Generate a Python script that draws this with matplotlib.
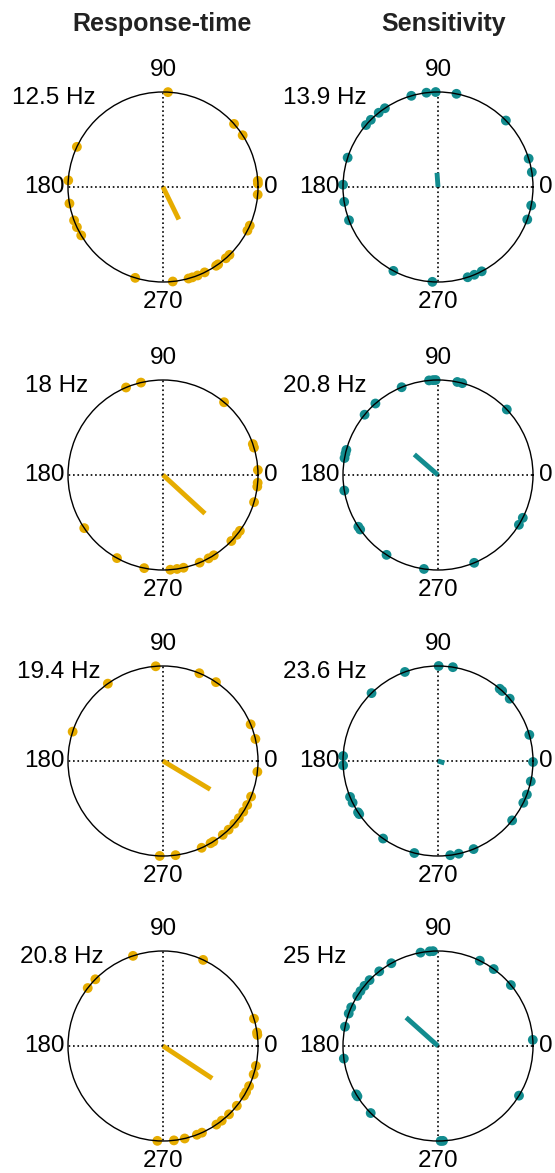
import numpy as np
import matplotlib
matplotlib.use("Agg")
import matplotlib.pyplot as plt

plt.rcParams['font.family'] = ['Liberation Sans', 'DejaVu Sans']

# phase angles (deg) of individual subjects, per frequency
rt_freqs = ['12.5 Hz', '18 Hz', '19.4 Hz', '20.8 Hz']
sens_freqs = ['13.9 Hz', '20.8 Hz', '23.6 Hz', '25 Hz']

rt_12_5 = [87, 41.6, 33, 155, 176, 3.7, 2, 355.4, 190, 200.6, 205, 210.6, 336, 332.7,
           314.4, 311.4, 305.5, 304, 296, 291.4, 288, 285.6, 275.9, 253]
rt_18 = [112.9, 103.4, 50, 19, 16.8, 3, 355.3, 353, 343.4, 214, 324, 321, 316, 302.3,
         298.7, 292.7, 282.5, 278.5, 274.4, 241, 258.6]
rt_19_4 = [94.4, 67.5, 56.1, 125.5, 162, 22.7, 13.4, 353.5, 338, 332.4, 327.7, 323,
           318.7, 313.7, 309, 302, 300, 294, 277.6, 268]
rt_20_8 = [108.4, 65, 135.4, 142.4, 16.7, 8.2, 6.7, 347.9, 342.6, 335, 331, 328.5,
           321, 314, 308.2, 304.2, 294.2, 290.9, 283.2, 276.6, 266.6]

sens_13_9 = [106.3, 97, 91.4, 78.8, 124, 128.6, 135, 139.3, 44.4, 162, 17.4, 9, 178.6,
             189, 200.5, 348.8, 340, 242, 266.6, 288.2, 292.5, 297.4]
sens_20_8 = [95.4, 93, 91.4, 78.3, 75.2, 112.5, 131.2, 140.6, 43.6, 164.7, 167, 169.7,
             189.4, 333.2, 328.4, 213, 215, 237.2, 261.5, 292.4]
sens_23_6 = [89.6, 81, 110.4, 134.4, 49.5, 47.5, 41, 16, 177, 182.6, 359.4, 347.6,
             339.3, 333.9, 321.3, 202.2, 206, 212.7, 214, 234.7, 255.6, 277.4, 282.6, 292]
sens_25 = [100.6, 95, 93, 63.9, 54.1, 39.9, 119.4, 128.2, 136.1, 140.7, 144.7, 148.2,
           156, 160, 168.3, 3.7, 187.6, 210.6, 212, 224.9, 328.5, 271.6, 273]

# mean resultant vector: angle (deg) and length
rt_mean_angle = [296, 317.4, 329, 326.6]
rt_mean_len = [0.38, 0.60, 0.58, 0.62]
sens_mean_angle = [94, 139, 342.5, 138.2]
sens_mean_len = [0.15, 0.33, 0.07, 0.45]

rt_phases = [rt_12_5, rt_18, rt_19_4, rt_20_8]
sens_phases = [sens_13_9, sens_20_8, sens_23_6, sens_25]

gold = '#E6AC00'
teal = '#128C8F'

W, H = 555, 1173
fig = plt.figure(figsize=(W / 100, H / 100), dpi=100)

col_x = [163, 438]
row_y = [187, 475, 761, 1046]
rad = 95
label_left = [[12, 283], [25, 283], [17, 283], [20, 283]]


def draw_panel(cx, cy, phases, m_ang, m_len, color, freq, lx):
    ax = fig.add_axes([(cx - rad) / W, 1 - (cy + rad) / H, 2 * rad / W, 2 * rad / H],
                      projection='polar')
    ax.set_ylim(0, 1)
    ax.grid(False)
    ax.set_xticks([])
    ax.set_yticks([])
    ax.spines['polar'].set_linewidth(1.0)
    ax.spines['polar'].set_zorder(5)
    for d in [0, 90, 180, 270]:
        ax.plot([np.deg2rad(d)] * 2, [0, 1], ':', color='black', lw=1.2, zorder=1)
    th = np.deg2rad(phases)
    ax.scatter(th, np.ones_like(th), s=50, color=color, edgecolor='none',
               clip_on=False, zorder=3)
    ax.plot([np.deg2rad(m_ang)] * 2, [0, m_len], color=color, lw=3.5,
            solid_capstyle='butt', zorder=4)
    kw = dict(fontsize=17.5, transform=ax.transData, clip_on=False)
    ax.text(np.pi / 2, 1.23, '90', ha='center', va='center', **kw)
    ax.text(3 * np.pi / 2, 1.21, '270', ha='center', va='center', **kw)
    ax.text(np.pi, 1.04, '180', ha='right', va='center', **kw)
    ax.text(0, 1.06, '0', ha='left', va='center', **kw)
    fig.text(lx / W, 1 - (cy - 89) / H, freq, fontsize=17.5, ha='left', va='center')


for r in range(4):
    draw_panel(col_x[0], row_y[r], rt_phases[r], rt_mean_angle[r], rt_mean_len[r],
               gold, rt_freqs[r], label_left[r][0])
    draw_panel(col_x[1], row_y[r], sens_phases[r], sens_mean_angle[r], sens_mean_len[r],
               teal, sens_freqs[r], label_left[r][1])

fig.text(162 / W, 1 - 24 / H, 'Response-time', fontsize=18, fontweight='bold',
         ha='center', va='center', color='#222222')
fig.text(444 / W, 1 - 24 / H, 'Sensitivity', fontsize=18, fontweight='bold',
         ha='center', va='center', color='#222222')

fig.savefig('out.png', dpi=100, facecolor='white')
